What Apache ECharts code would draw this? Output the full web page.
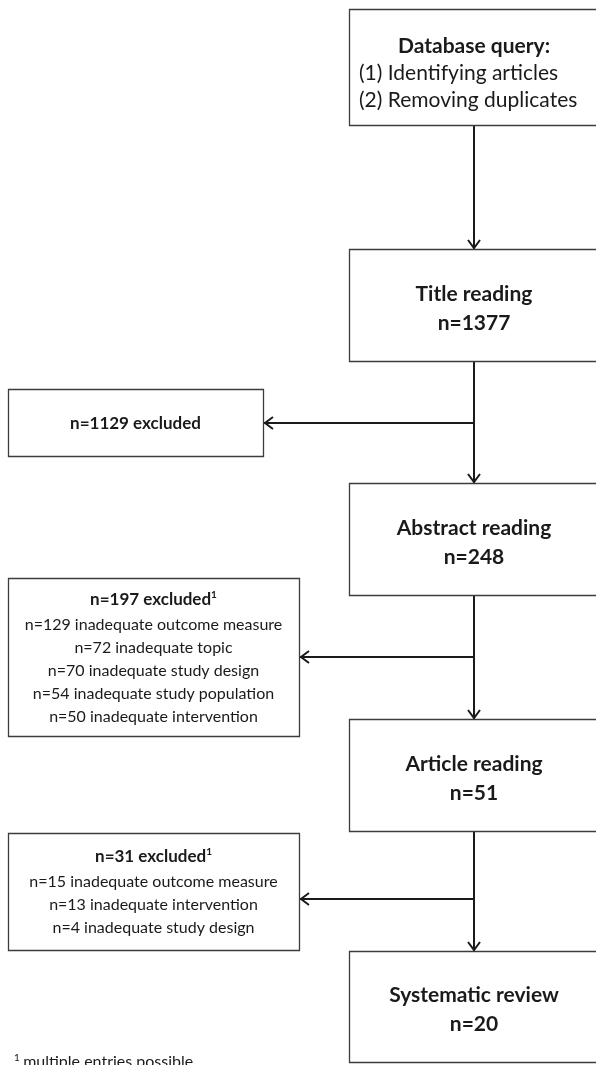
<!DOCTYPE html>
<html><head><meta charset="utf-8">
<script src="https://cdn.jsdelivr.net/npm/echarts@6/dist/echarts.min.js"></script>
<style>html,body{margin:0;padding:0;background:#fff}#c{width:596px;height:1065px}</style>
</head><body><div id="c"></div>
<script>
// ---- data ----
const queryTitle = 'Database query:';
const querySteps = ['(1) Identifying articles', '(2) Removing duplicates'];
const stageNames = ['Title reading', 'Abstract reading', 'Article reading', 'Systematic review'];
const stageCounts = [1377, 248, 51, 20];
const excludedCounts = [1129, 197, 31];
const excludedMultiple = [false, true, true];
const reasons197Counts = [129, 72, 70, 54, 50];
const reasons197Labels = ['inadequate outcome measure', 'inadequate topic', 'inadequate study design', 'inadequate study population', 'inadequate intervention'];
const reasons31Counts = [15, 13, 4];
const reasons31Labels = ['inadequate outcome measure', 'inadequate intervention', 'inadequate study design'];
const excludedReasons = [[], reasons197Counts.map((c, i) => 'n=' + c + ' ' + reasons197Labels[i]), reasons31Counts.map((c, i) => 'n=' + c + ' ' + reasons31Labels[i])];
const footnoteMark = '1';
const footnoteText = 'multiple entries possible';

// ---- layout ----
const W = 596, H = 1065;
const FONT = 'Lato, "Open Sans", sans-serif';
const TXT = '#1a1a1a';
const BORDER = '#3c3c3c';
const mainX = [349, 600];
const mainY = [[9, 125], [249, 361], [483, 595], [719, 831], [951, 1062]];
const sideX = [[8, 263], [8, 299], [8, 299]];
const sideY = [[389, 456], [578, 736], [833, 950]];
const arrowY = [423, 657, 899];
const spineX = 474;
const stepsLeftX = 359;

function P(api, x, y) { return api.coord([x, y]); }

function rectEl(api, x0, y0, x1, y1) {
  const a = P(api, x0, y0), b = P(api, x1, y1);
  return { type: 'rect', shape: { x: Math.round(a[0]) + 0.5, y: Math.round(a[1]) + 0.5, width: b[0] - a[0], height: b[1] - a[1] },
    style: { fill: '#fff', stroke: BORDER, lineWidth: 1.3 } };
}
function textEl(api, x, y, text, size, bold, rich, align) {
  const p = P(api, x, y);
  const st = { text: text, x: p[0], y: p[1], align: align || 'center', verticalAlign: 'middle', fill: TXT,
    font: (bold ? 'bold ' : '') + size + 'px ' + FONT };
  if (rich) st.rich = rich;
  return { type: 'text', style: st };
}

function renderMain(params, api) {
  const i = api.value(0);
  const y0 = mainY[i][0], y1 = mainY[i][1];
  const cy = (y0 + y1) / 2;
  const children = [rectEl(api, mainX[0], y0, mainX[1], y1)];
  if (i === 0) {
    children.push(textEl(api, spineX, cy - 21, queryTitle, 21, true));
    querySteps.forEach((s, k) => children.push(textEl(api, stepsLeftX, cy + 6 + 27 * k, s, 21, false, null, 'left')));
  } else {
    children.push(textEl(api, spineX, cy - 11, stageNames[i - 1], 21, true));
    children.push(textEl(api, spineX, cy + 18, 'n=' + stageCounts[i - 1], 21, true));
  }
  return { type: 'group', children: children };
}

function renderSide(params, api) {
  const j = api.value(0);
  const x0 = sideX[j][0], x1 = sideX[j][1], y0 = sideY[j][0], y1 = sideY[j][1];
  const cx = (x0 + x1) / 2, cy = (y0 + y1) / 2;
  const children = [rectEl(api, x0, y0, x1, y1)];
  const reasons = excludedReasons[j];
  const sp = 23;
  const blockH = reasons.length ? 25 + sp * (reasons.length - 1) : 0;
  const ty = cy - blockH / 2 + 1;
  const title = 'n=' + excludedCounts[j] + ' excluded';
  const rich = {
    b: { font: 'bold 17px ' + FONT, fill: TXT, lineHeight: 20 },
    s: { font: 'bold 10px ' + FONT, fill: TXT, lineHeight: 10, verticalAlign: 'top' }
  };
  children.push(textEl(api, cx, ty, excludedMultiple[j] ? '{b|' + title + '}{s|1}' : '{b|' + title + '}', 17, true, rich));
  reasons.forEach((r, k) => children.push(textEl(api, cx, ty + 25 + sp * k, r, 16, false)));
  return { type: 'group', children: children };
}

function chevron(api, tip, dir) {
  const t = P(api, tip[0], tip[1]);
  let pts;
  if (dir === 'down') pts = [[t[0] - 6, t[1] - 9], [t[0], t[1] - 1], [t[0] + 6, t[1] - 9]];
  else pts = [[t[0] + 9, t[1] - 6], [t[0] + 1, t[1]], [t[0] + 9, t[1] + 6]];
  return { type: 'polyline', shape: { points: pts }, style: { stroke: '#1a1a1a', lineWidth: 2, fill: null } };
}

function renderArrow(params, api) {
  const k = api.value(0);
  let a, b, dir;
  if (k < 4) { a = [spineX, mainY[k][1]]; b = [spineX, mainY[k + 1][0]]; dir = 'down'; }
  else { const j = k - 4; a = [spineX, arrowY[j]]; b = [sideX[j][1] + 1, arrowY[j]]; dir = 'left'; }
  const pa = P(api, a[0], a[1]), pb = P(api, b[0], b[1]);
  return { type: 'group', children: [
    { type: 'line', shape: { x1: pa[0], y1: pa[1], x2: pb[0], y2: pb[1] }, style: { stroke: '#1a1a1a', lineWidth: 2 } },
    chevron(api, b, dir)
  ] };
}

function renderFoot(params, api) {
  const p = P(api, 14, 1062);
  return { type: 'text', style: { text: '{s|' + footnoteMark + '} {n|' + footnoteText + '}', x: p[0], y: p[1], align: 'left', verticalAlign: 'middle',
    rich: { s: { font: '10px ' + FONT, fill: TXT, lineHeight: 10, verticalAlign: 'top' }, n: { font: '16px ' + FONT, fill: TXT, lineHeight: 19 } } } };
}

const chart = echarts.init(document.getElementById('c'), null, { renderer: 'canvas' });
chart.setOption({
  animation: false,
  backgroundColor: '#fff',
  grid: { left: 0, right: 0, top: 0, bottom: 0 },
  xAxis: { type: 'value', min: 0, max: W, show: false },
  yAxis: { type: 'value', min: 0, max: H, inverse: true, show: false },
  series: [
    { type: 'custom', renderItem: renderArrow, clip: false, data: [0, 1, 2, 3, 4, 5, 6].map(i => [i, 0]), encode: { x: 0, y: 1 }, z: 1 },
    { type: 'custom', renderItem: renderMain, clip: false, data: mainY.map((d, i) => [i, 0]), encode: { x: 0, y: 1 }, z: 2 },
    { type: 'custom', renderItem: renderSide, clip: false, data: sideY.map((d, i) => [i, 0]), encode: { x: 0, y: 1 }, z: 2 },
    { type: 'custom', renderItem: renderFoot, clip: false, data: [[0, 0]], encode: { x: 0, y: 1 }, z: 2 }
  ]
});
</script></body></html>
